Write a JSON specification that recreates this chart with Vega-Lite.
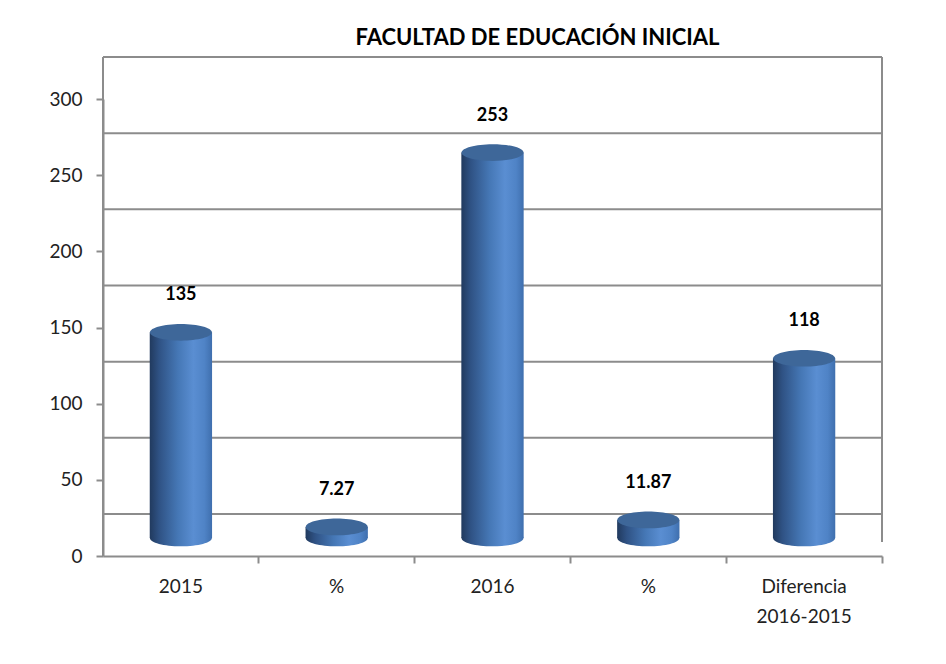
{
  "$schema": "https://vega.github.io/schema/vega-lite/v6.json",
  "width": 779,
  "height": 457,
  "autosize": {"type": "none"},
  "padding": {"left": 103, "top": 99, "right": 64, "bottom": 108},
  "background": "white",
  "config": {"view": {"stroke": null}, "font": "Lato"},
  "title": {
    "text": "FACULTAD DE EDUCACIÓN INICIAL",
    "font": "Lato",
    "fontSize": 22,
    "fontWeight": "bold",
    "color": "#000000",
    "anchor": "middle",
    "dx": 45,
    "offset": 6
  },
  "datasets": {
    "bars": [
      {"cat": "2015", "valor": 135},
      {"cat": "% (2015)", "valor": 7.27},
      {"cat": "2016", "valor": 253},
      {"cat": "% (2016)", "valor": 11.87},
      {"cat": "Diferencia 2016-2015", "valor": 118}
    ],
    "grid": [
      {"v": 0}, {"v": 50}, {"v": 100}, {"v": 150}, {"v": 200}, {"v": 250}, {"v": 300}
    ]
  },
  "layer": [
    {
      "data": {"name": "grid"},
      "mark": {"type": "rule", "color": "#8c8c8c", "strokeWidth": 2, "yOffset": -42},
      "encoding": {
        "y": {"field": "v", "type": "quantitative", "scale": {"domain": [0, 300]}}
      }
    },
    {
      "data": {"name": "bars"},
      "mark": {
        "type": "bar",
        "width": {"band": 0.4},
        "yOffset": -18,
        "y2Offset": -18,
        "color": {
          "gradient": "linear", "x1": 0, "x2": 1, "y1": 0, "y2": 0,
          "stops": [
            {"offset": 0, "color": "#213a5e"},
            {"offset": 0.15, "color": "#2f5284"},
            {"offset": 0.45, "color": "#4577b5"},
            {"offset": 0.7, "color": "#5a8ed2"},
            {"offset": 0.88, "color": "#4f83c6"},
            {"offset": 1, "color": "#3f6fae"}
          ]
        }
      },
      "encoding": {
        "x": {
          "field": "cat", "type": "nominal", "sort": null,
          "scale": {"paddingInner": 0, "paddingOuter": 0},
          "axis": {
            "title": null,
            "labelAngle": 0,
            "bandPosition": 1,
            "domainColor": "#8c8c8c", "domainWidth": 2,
            "tickColor": "#8c8c8c", "tickWidth": 2, "tickSize": 7,
            "labelFont": "Lato", "labelFontSize": 19, "labelColor": "#222222",
            "labelPadding": 14, "labelLineHeight": 30,
            "labelExpr": "datum.value == 'Diferencia 2016-2015' ? ['Diferencia', '2016-2015'] : (slice(datum.value, 0, 1) == '%' ? '%' : datum.value)"
          }
        },
        "y": {
          "field": "valor", "type": "quantitative",
          "scale": {"domain": [0, 300]},
          "axis": {
            "title": null,
            "values": [0, 50, 100, 150, 200, 250, 300],
            "grid": false, "domainColor": "#8c8c8c", "domainWidth": 2,
            "tickColor": "#8c8c8c", "tickWidth": 2, "tickSize": 7,
            "labelFont": "Lato", "labelFontSize": 19, "labelColor": "#222222",
            "labelPadding": 14
          }
        }
      }
    },
    {
      "data": {"name": "bars"},
      "mark": {
        "type": "point", "filled": true, "opacity": 1, "size": 3844, "yOffset": -18,
        "shape": "M -1 0 A 1 0.27 0 1 0 1 0 A 1 0.27 0 1 0 -1 0 Z",
        "color": {
          "gradient": "linear", "x1": 0, "x2": 1, "y1": 0, "y2": 0,
          "stops": [
            {"offset": 0, "color": "#213a5e"},
            {"offset": 0.15, "color": "#2f5284"},
            {"offset": 0.45, "color": "#4577b5"},
            {"offset": 0.7, "color": "#5a8ed2"},
            {"offset": 0.88, "color": "#4f83c6"},
            {"offset": 1, "color": "#3f6fae"}
          ]
        }
      },
      "encoding": {
        "x": {"field": "cat", "type": "nominal", "sort": null},
        "y": {"datum": 0, "type": "quantitative"}
      }
    },
    {
      "data": {"name": "bars"},
      "mark": {
        "type": "point", "filled": true, "opacity": 1, "size": 3844, "yOffset": -18,
        "shape": "M -1 0 A 1 0.27 0 1 0 1 0 A 1 0.27 0 1 0 -1 0 Z",
        "color": "#3e6799"
      },
      "encoding": {
        "x": {"field": "cat", "type": "nominal", "sort": null},
        "y": {"field": "valor", "type": "quantitative"}
      }
    },
    {
      "data": {"name": "bars"},
      "mark": {"type": "text", "font": "Lato", "fontSize": 18, "fontWeight": "bold", "color": "#000000", "baseline": "middle", "dy": -55},
      "encoding": {
        "x": {"field": "cat", "type": "nominal", "sort": null},
        "y": {"field": "valor", "type": "quantitative"},
        "text": {"field": "valor", "type": "quantitative"}
      }
    },
    {
      "data": {"values": [{"edge": "left"}]},
      "mark": {"type": "rule", "color": "#8c8c8c", "strokeWidth": 2, "yOffset": -42, "y2Offset": 0},
      "encoding": {
        "x": {"datum": "2015", "type": "nominal", "bandPosition": 0},
        "y": {"datum": 300, "type": "quantitative"},
        "y2": {"datum": 0}
      }
    },
    {
      "data": {"values": [{"edge": "right"}]},
      "mark": {"type": "rule", "color": "#8c8c8c", "strokeWidth": 2, "yOffset": -42, "y2Offset": -14},
      "encoding": {
        "x": {"datum": "Diferencia 2016-2015", "type": "nominal", "bandPosition": 1},
        "y": {"datum": 300, "type": "quantitative"},
        "y2": {"datum": 0}
      }
    }
  ]
}
